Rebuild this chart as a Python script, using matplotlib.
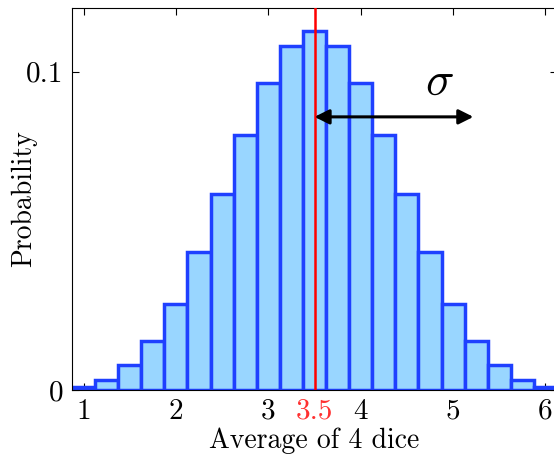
import matplotlib
matplotlib.use("Agg")
import matplotlib.pyplot as plt

plt.rcParams["font.family"] = "serif"
plt.rcParams["font.serif"] = ["cmr10"]
plt.rcParams["mathtext.fontset"] = "cm"
plt.rcParams["axes.formatter.use_mathtext"] = True

# Media de 4 dados e probabilidades
medias = [1.0, 1.25, 1.5, 1.75, 2.0, 2.25, 2.5, 2.75, 3.0, 3.25, 3.5,
          3.75, 4.0, 4.25, 4.5, 4.75, 5.0, 5.25, 5.5, 5.75, 6.0]
probabilidades = [0.0008, 0.0031, 0.0077, 0.0154, 0.0270, 0.0432, 0.0617,
                  0.0802, 0.0965, 0.1080, 0.1127, 0.1080, 0.0965, 0.0802,
                  0.0617, 0.0432, 0.0270, 0.0154, 0.0077, 0.0031, 0.0008]
media_valor = 3.5
sigma_fim = 5.22
xticks = [1, 2, 3, 3.5, 4, 5, 6]
xtick_labels = ["1", "2", "3", "3.5", "4", "5", "6"]

fig = plt.figure(figsize=(5.54, 4.59), dpi=100)
ax = fig.add_axes([72 / 554, 69 / 459, 485 / 554, 382 / 459])

ax.bar(medias, probabilidades, width=0.25, color="#99d6ff",
       edgecolor="#1f40ff", linewidth=2.5, zorder=2)
ax.axvline(media_valor, color="red", linewidth=1.8, zorder=3)
ax.annotate("", xy=(sigma_fim, 0.0858), xytext=(media_valor, 0.0858),
            arrowprops=dict(arrowstyle="<|-|>", color="black", lw=2.2,
                            mutation_scale=22, shrinkA=0, shrinkB=0),
            zorder=4)
ax.text(4.85, 0.0965, r"$\sigma$", fontsize=34, ha="center", va="center")

ax.set_xlim(0.875, 6.125)
ax.set_ylim(0, 0.12)
ax.set_xticks(xticks)
ax.set_xticklabels(xtick_labels, fontsize=21)
ax.get_xticklabels()[3].set_color("#ff3030")
ax.set_yticks([0, 0.1])
ax.set_yticklabels(["0", "0.1"], fontsize=21)
ax.tick_params(direction="in", top=True, right=True, length=5, width=0.8,
               pad=6)
ax.set_xlabel("Average of 4 dice", fontsize=20, labelpad=2)
ax.set_ylabel("Probability", fontsize=20)
ax.yaxis.set_label_coords(-0.072, 0.5)

plt.savefig("out.png", dpi=100)
